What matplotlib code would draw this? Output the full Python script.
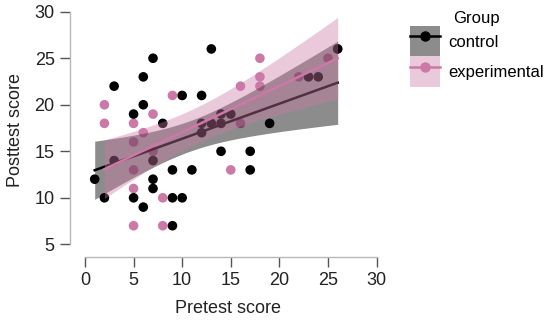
import numpy as np
import matplotlib
matplotlib.use("Agg")
import matplotlib.pyplot as plt
from matplotlib.lines import Line2D
from matplotlib.patches import Patch
from matplotlib.legend_handler import HandlerTuple

plt.rcParams['font.family'] = ['Liberation Sans', 'DejaVu Sans']

groups = ["control", "experimental"]
control_pre = [1, 2, 3, 3, 5, 5, 6, 6, 6, 7, 7, 7, 7, 8, 9, 9, 9, 10, 10, 11,
               12, 12, 12, 13, 13, 14, 14, 14, 15, 17, 17, 19, 23, 24, 26]
control_post = [12, 10, 22, 14, 19, 10, 23, 20, 9, 25, 14, 12, 11, 18, 13, 10, 7, 21, 10, 13,
                21, 18, 17, 26, 18, 19, 18, 15, 19, 15, 13, 18, 23, 23, 26]
exp_pre = [2, 2, 5, 5, 5, 5, 5, 6, 7, 7, 8, 8, 9, 15, 16, 16, 18, 18, 18, 22, 25, 26]
exp_post = [20, 18, 18, 16, 13, 11, 7, 17, 19, 15, 10, 7, 21, 13, 22, 18, 25, 23, 22, 23, 25, 26]
t_quantile = {"control": 2.0345, "experimental": 2.086}

colors = {"control": "#000000", "experimental": "#CC79A7"}
band_alpha = {"control": 0.45, "experimental": 0.4}
data = {"control": (np.array(control_pre, float), np.array(control_post, float)),
        "experimental": (np.array(exp_pre, float), np.array(exp_post, float))}

fig = plt.figure(figsize=(5.5, 3.22), dpi=100)
ax = fig.add_axes([0.1273, 0.2028, 0.575, 0.7897])

# points (experimental underneath control)
for g in ["experimental", "control"]:
    x, y = data[g]
    ax.scatter(x, y, s=48, color=colors[g], edgecolors="none", zorder=2)

# linear fits with 95% confidence bands
for g in groups:
    x, y = data[g]
    n = len(x)
    b, a = np.polyfit(x, y, 1)
    xs = np.linspace(x.min(), x.max(), 100)
    ys = a + b * xs
    resid = y - (a + b * x)
    s = np.sqrt(np.sum(resid ** 2) / (n - 2))
    se = s * np.sqrt(1 / n + (xs - x.mean()) ** 2 / np.sum((x - x.mean()) ** 2))
    ci = t_quantile[g] * se
    ax.fill_between(xs, ys - ci, ys + ci, color=colors[g], alpha=band_alpha[g],
                    linewidth=0, zorder=3)
    ax.plot(xs, ys, color=colors[g], lw=1.8, zorder=3)

ax.set_xlim(-1.54, 31)
ax.set_ylim(3.67, 31)
ax.set_xticks([0, 5, 10, 15, 20, 25, 30])
ax.set_yticks([5, 10, 15, 20, 25, 30])
for sp in ["top", "right"]:
    ax.spines[sp].set_visible(False)
ax.spines["bottom"].set_bounds(0, 30)
ax.spines["left"].set_bounds(5, 30)
for sp in ["bottom", "left"]:
    ax.spines[sp].set_color("#b8b8b8")
    ax.spines[sp].set_linewidth(1.0)
ax.tick_params(axis="both", labelsize=13, length=7, width=1.0, color="#555555",
               pad=4, labelcolor="#222222")
ax.set_xlabel("Pretest score", fontsize=13, labelpad=8, color="#222222")
ax.set_ylabel("Posttest score", fontsize=13, labelpad=8, color="#222222")
ax.patch.set_alpha(0)

handles = []
for g in groups:
    p = Patch(facecolor=colors[g], alpha=band_alpha[g], edgecolor="none")
    l = Line2D([], [], color=colors[g], lw=1.8, marker="o", markersize=6.5)
    handles.append((p, l))
leg = fig.legend(handles, groups, loc="upper left", bbox_to_anchor=(0.739, 0.975),
                 frameon=False, title="Group", fontsize=12, title_fontsize=12,
                 handlelength=1.8, handleheight=2.4, labelspacing=0.0,
                 handletextpad=0.5, borderpad=0.2, borderaxespad=0,
                 handler_map={tuple: HandlerTuple(ndivide=1, pad=0)})

fig.savefig("out.png", dpi=100)
